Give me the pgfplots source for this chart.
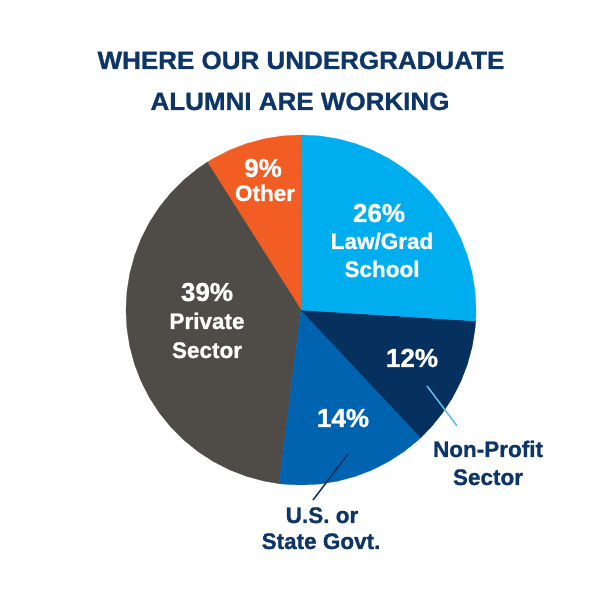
\documentclass[border=0pt]{standalone}
\usepackage{pgfplots}
\pgfplotsset{compat=1.18}
\usepgfplotslibrary{polar}
\usepackage{fontspec}
\setmainfont{Liberation Sans}[BoldFeatures={FakeBold=1.0}]
\definecolor{titlenavy}{HTML}{0D3566}
\definecolor{lightblue}{HTML}{00AEEF}
\definecolor{leader}{HTML}{5FBCEB}
\definecolor{navy}{HTML}{06305E}
\definecolor{midblue}{HTML}{0063AF}
\definecolor{greyc}{HTML}{4F4C48}
\definecolor{orangec}{HTML}{F15D22}
\begin{document}
\begin{tikzpicture}[x=1bp,y=1bp]
\fill[white] (0,0) rectangle (600,600);
\useasboundingbox (0,0) rectangle (600,600);
\begin{polaraxis}[hide axis, scale only axis, width=350bp, height=350bp,
  xmin=0, xmax=360, ymin=0, ymax=1, clip=false,
  at={(301bp,290bp)}, anchor=origin]
% Other 9%
\addplot[fill=orangec, draw=orangec, line width=0.3bp, line join=round, mark=none] coordinates {
(0,0) (90,1) (96,1) (102,1) (108,1) (114,1) (120,1) (122.4,1) (0,0)};
% Private Sector 39%
\addplot[fill=greyc, draw=greyc, line width=0.3bp, line join=round, mark=none] coordinates {
(0,0) (122.4,1) (126,1) (132,1) (138,1) (144,1) (150,1) (156,1) (162,1) (168,1) (174,1)
(180,1) (186,1) (192,1) (198,1) (204,1) (210,1) (216,1) (222,1) (228,1) (234,1) (240,1)
(246,1) (252,1) (258,1) (262.8,1) (0,0)};
% U.S. or State Govt. 14%
\addplot[fill=midblue, draw=midblue, line width=0.3bp, line join=round, mark=none] coordinates {
(0,0) (262.8,1) (264,1) (270,1) (276,1) (282,1) (288,1) (294,1) (300,1) (306,1) (312,1) (313.2,1) (0,0)};
% Non-Profit Sector 12%
\addplot[fill=navy, draw=navy, line width=0.3bp, line join=round, mark=none] coordinates {
(0,0) (313.2,1) (318,1) (324,1) (330,1) (336,1) (342,1) (348,1) (354,1) (356.4,1) (0,0)};
% Law/Grad School 26%
\addplot[fill=lightblue, draw=lightblue, line width=0.3bp, line join=round, mark=none] coordinates {
(0,0) (-3.6,1) (0,1) (6,1) (12,1) (18,1) (24,1) (30,1) (36,1) (42,1) (48,1) (54,1)
(60,1) (66,1) (72,1) (78,1) (84,1) (90,1) (0,0)};
\end{polaraxis}
% title
\node[anchor=base, text=titlenavy, font=\fontsize{25bp}{30bp}\selectfont\bfseries, inner sep=0] at (301,531) {\scalebox{1.04}[1]{WHERE OUR UNDERGRADUATE}};
\node[anchor=base, text=titlenavy, font=\fontsize{25bp}{30bp}\selectfont\bfseries, inner sep=0] at (300,490) {\scalebox{1.04}[1]{ALUMNI ARE WORKING}};
% in-slice labels
\tikzset{pctlab/.style={anchor=base, text=white, inner sep=0, font=\fontsize{26bp}{30bp}\selectfont\bfseries},
         inlab/.style={anchor=base, text=white, inner sep=0, font=\fontsize{22.5bp}{27bp}\selectfont\bfseries},
         outlab/.style={anchor=base, text=titlenavy, inner sep=0, font=\fontsize{22.5bp}{27bp}\selectfont\bfseries}}
\node[pctlab] at (379,378) {26\%};
\node[inlab] at (382,351) {Law/Grad};
\node[inlab] at (382,323) {School};
\node[pctlab] at (412,233) {12\%};
\node[pctlab] at (343,173) {14\%};
\node[pctlab] at (207,299) {39\%};
\node[inlab] at (207,271) {Private};
\node[inlab] at (207,242) {Sector};
\node[pctlab] at (263,423) {9\%};
\node[inlab] at (265,399) {Other};
% outside labels
\draw[leader, line width=1.5bp] (427,214) -- (457,174);
\draw[navy, line width=1.5bp] (348,146) -- (313,100);
\node[outlab] at (488,143) {Non-Profit};
\node[outlab] at (488,115) {Sector};
\node[outlab] at (322,77) {U.S. or};
\node[outlab] at (321,51) {State Govt.};
\end{tikzpicture}
\end{document}
